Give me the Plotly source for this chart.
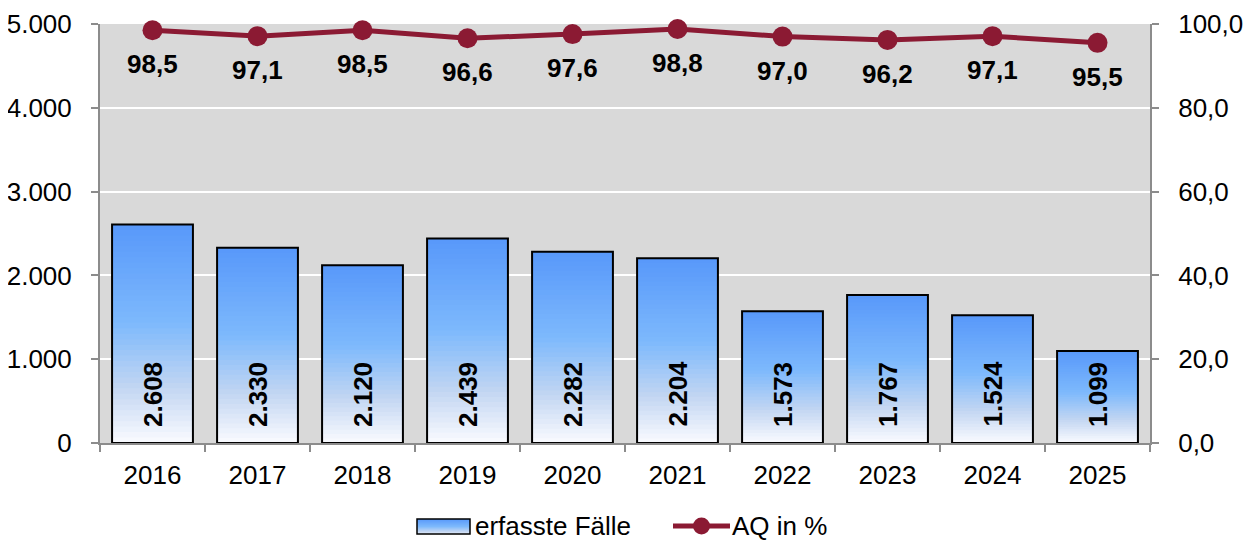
import plotly.graph_objects as go

years = ["2016", "2017", "2018", "2019", "2020", "2021", "2022", "2023", "2024", "2025"]
faelle = [2608, 2330, 2120, 2439, 2282, 2204, 1573, 1767, 1524, 1099]
aq = [98.5, 97.1, 98.5, 96.6, 97.6, 98.8, 97.0, 96.2, 97.1, 95.5]
legend_labels = ["erfasste Fälle", "AQ in %"]

LINE_COLOR = "#8B1A33"
FONT = "Liberation Sans, Arial, sans-serif"
FS = 26

# gradient stops (fraction from bottom, rgb)
stops = [(0.0, (250, 251, 255)), (0.25, (195, 214, 242)), (0.55, (125, 185, 252)), (1.0, (88, 152, 250))]


def color_at(f):
    f = min(max(f, 0.0), 1.0)
    for (f0, c0), (f1, c1) in zip(stops[:-1], stops[1:]):
        if f0 <= f <= f1:
            t = (f - f0) / (f1 - f0) if f1 > f0 else 0
            return "rgb(%d,%d,%d)" % tuple(round(a + (b - a) * t) for a, b in zip(c0, c1))
    return "rgb(%d,%d,%d)" % stops[-1][1]


fig = go.Figure()
N = 40
for k in range(N):
    frac = 1 - k / N
    fig.add_trace(go.Bar(
        x=years, y=[v * frac for v in faelle],
        marker=dict(color=color_at(frac - 0.5 / N), line=dict(width=0)),
        showlegend=False, hoverinfo="skip",
    ))

# outline
fig.add_trace(go.Bar(
    x=years, y=faelle, name=legend_labels[0],
    marker=dict(color="rgba(0,0,0,0)", line=dict(color="black", width=2)),
    showlegend=False,
))

fig.add_trace(go.Scatter(
    x=years, y=aq, name=legend_labels[1], yaxis="y2", mode="lines+markers",
    line=dict(color=LINE_COLOR, width=5), marker=dict(color=LINE_COLOR, size=20),
    cliponaxis=False, showlegend=False,
))

annotations = []
for i, v in enumerate(faelle):
    annotations.append(dict(
        x=i, y=0, xref="x", yref="y", text=f"{v:,}".replace(",", "."),
        textangle=-90, yanchor="bottom", yshift=14, showarrow=False,
        font=dict(size=FS, color="black", family=FONT, weight="bold"),
    ))
for i, v in enumerate(aq):
    annotations.append(dict(
        x=i, y=v, xref="x", yref="y2", text=f"{v:.1f}".replace(".", ","),
        yanchor="middle", yshift=-34, showarrow=False,
        font=dict(size=FS, color="black", family=FONT, weight="bold"),
    ))

# manual legend (paper coordinates; plot area = 1050 x 419 px, left=100, bottom=443 on screen)
PW, PH = 1050.0, 419.0


def px(xpix):
    return (xpix - 100) / PW


def py(ypix):
    return (443 - ypix) / PH


LEG_Y = 526
shapes = []
n_strips = 15
top, bot = LEG_Y - 7, LEG_Y + 8
for i in range(n_strips):
    y_top = top + (bot - top) * i / n_strips
    y_bot = min(top + (bot - top) * (i + 1) / n_strips + 0.6, bot)
    frac = 1 - (i + 0.5) / n_strips
    shapes.append(dict(type="rect", xref="paper", yref="paper",
                       x0=px(417), x1=px(470), y0=py(y_bot), y1=py(y_top),
                       fillcolor=color_at(frac * 0.9 + 0.1), line=dict(width=0), layer="above"))
shapes.append(dict(type="rect", xref="paper", yref="paper",
                   x0=px(417), x1=px(470), y0=py(bot), y1=py(top),
                   fillcolor="rgba(0,0,0,0)", line=dict(color="black", width=1.5), layer="above"))
shapes.append(dict(type="line", xref="paper", yref="paper",
                   x0=px(673), x1=px(730), y0=py(LEG_Y), y1=py(LEG_Y),
                   line=dict(color=LINE_COLOR, width=5), layer="above"))
shapes.append(dict(type="circle", xref="paper", yref="paper",
                   x0=px(693), x1=px(710), y0=py(LEG_Y + 8.5), y1=py(LEG_Y - 8.5),
                   fillcolor=LINE_COLOR, line=dict(width=0), layer="above"))

annotations.append(dict(x=px(474), y=py(LEG_Y), xref="paper", yref="paper", text=legend_labels[0],
                        xanchor="left", yanchor="middle", showarrow=False, borderpad=0,
                        font=dict(size=FS, family=FONT, color="black")))
annotations.append(dict(x=px(731), y=py(LEG_Y), xref="paper", yref="paper", text=legend_labels[1],
                        xanchor="left", yanchor="middle", showarrow=False, borderpad=0,
                        font=dict(size=FS, family=FONT, color="black")))

fig.update_layout(
    width=1248, height=532,
    margin=dict(l=92, r=106, t=16, b=97),
    paper_bgcolor="white", plot_bgcolor="#D9D9D9",
    barmode="overlay", bargap=0.23,
    font=dict(family=FONT, size=FS, color="black"),
    separators=",.",
    showlegend=False,
    annotations=annotations, shapes=shapes,
    xaxis=dict(type="category", range=[-0.5, len(years) - 0.5], showline=True,
               linecolor="#8C8C8C", linewidth=2,
               ticks="outside", tickson="boundaries", ticklen=7, tickcolor="#8C8C8C", tickwidth=2,
               tickfont=dict(size=FS), tickangle=0, showgrid=False, automargin=False,
               ticklabelstandoff=8),
    yaxis=dict(range=[0, 5000], dtick=1000, tickformat=",d", showline=True,
               linecolor="#8C8C8C", linewidth=2, ticks="outside", ticklen=7, tickwidth=2,
               tickcolor="#8C8C8C", gridcolor="white", gridwidth=2, zeroline=False,
               tickfont=dict(size=FS), automargin=False, ticklabelstandoff=14),
    yaxis2=dict(range=[0, 100], dtick=20, tickformat=".1f", overlaying="y", side="right",
                showline=True, linecolor="#8C8C8C", linewidth=2, ticks="outside", tickwidth=2,
                ticklen=7, tickcolor="#8C8C8C", showgrid=False, zeroline=False,
                tickfont=dict(size=FS), automargin=False, ticklabelstandoff=14),
)

fig.write_html("out.html")
